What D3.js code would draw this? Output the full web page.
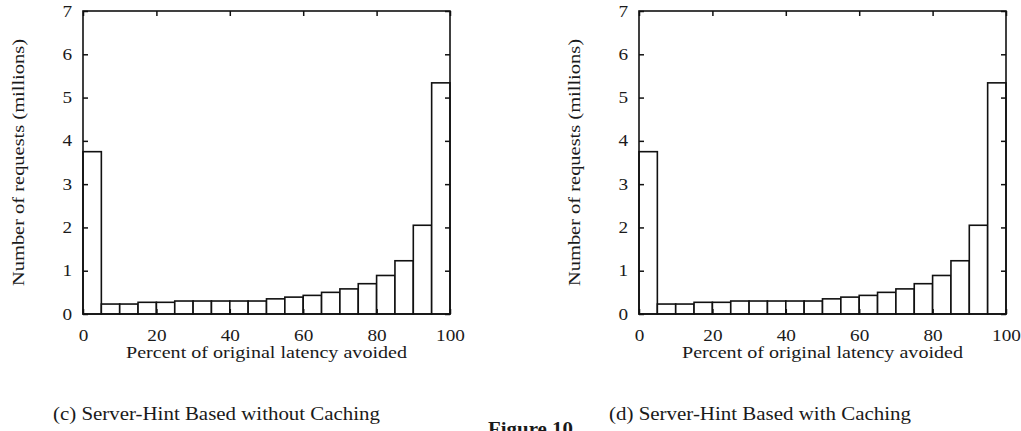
<!DOCTYPE html>
<html>
<head>
<meta charset="utf-8">
<script src="https://cdn.jsdelivr.net/npm/d3@7"></script>
<style>
  body { margin: 0; background: #fff; }
  svg text { font-family: "Times New Roman", "Liberation Serif", Times, serif; fill: #1a1a1a; }
</style>
</head>
<body>
<svg id="fig" width="1021" height="431"></svg>
<script>
// histogram bins (lower edge, percent) and counts in millions
var binStart = [0, 5, 10, 15, 20, 25, 30, 35, 40, 45, 50, 55, 60, 65, 70, 75, 80, 85, 90, 95];
var binWidth = 5;
var countsNoCache = [3.75, 0.23, 0.23, 0.27, 0.27, 0.30, 0.30, 0.30, 0.30, 0.30, 0.35, 0.39, 0.43, 0.50, 0.58, 0.70, 0.89, 1.23, 2.05, 5.34];
var countsCache   = [3.75, 0.23, 0.23, 0.27, 0.27, 0.30, 0.30, 0.30, 0.30, 0.30, 0.35, 0.39, 0.43, 0.50, 0.58, 0.70, 0.89, 1.23, 2.05, 5.34];

var xTicks = [0, 20, 40, 60, 80, 100];
var yTicks = [0, 1, 2, 3, 4, 5, 6, 7];

var xLabel = "Percent of original latency avoided";
var yLabel = "Number of requests (millions)";
var captions = ["(c) Server-Hint Based without Caching", "(d) Server-Hint Based with Caching"];
var figTitle = "Figure 10";

var serif = "'Times New Roman', 'Liberation Serif', Times, serif";
var svg = d3.select("#fig");

var top_ = 11, plotW = 367, plotH = 303;

// the scanned text is wider than the font, so stretch it a bit
function stretch(sel, perChar) {
  sel.attr("textLength", function() { return this.textContent.length * perChar; })
     .attr("lengthAdjust", "spacingAndGlyphs");
}

function panel(left, counts, caption, capLen) {
  var x = d3.scaleLinear().domain([0, 100]).range([0, plotW]);
  var y = d3.scaleLinear().domain([0, 7]).range([plotH, 0]);

  var g = svg.append("g").attr("transform", "translate(" + left + "," + top_ + ")");

  // bars
  g.selectAll(".bar")
    .data(binStart)
    .enter().append("rect")
    .attr("class", "bar")
    .attr("x", function(d) { return x(d); })
    .attr("width", function(d) { return x(d + binWidth) - x(d); })
    .attr("y", function(d, i) { return y(counts[i]); })
    .attr("height", function(d, i) { return plotH - y(counts[i]); })
    .attr("fill", "#fff")
    .attr("stroke", "#111")
    .attr("stroke-width", 1.6);

  // axes with inward ticks
  var ax = g.append("g").attr("transform", "translate(0," + plotH + ")")
    .call(d3.axisBottom(x).tickValues(xTicks).tickFormat(d3.format("d"))
      .tickSizeInner(-5).tickSizeOuter(0).tickPadding(16));
  var ay = g.append("g")
    .call(d3.axisLeft(y).tickValues(yTicks).tickFormat(d3.format("d"))
      .tickSizeInner(-5).tickSizeOuter(0).tickPadding(11));
  g.append("g")
    .call(d3.axisTop(x).tickValues(xTicks).tickSizeInner(-5).tickSizeOuter(0).tickFormat(""));
  g.append("g").attr("transform", "translate(" + plotW + ",0)")
    .call(d3.axisRight(y).tickValues(yTicks).tickSizeInner(-5).tickSizeOuter(0).tickFormat(""));

  g.selectAll(".domain").remove();
  g.selectAll("g").attr("font-family", serif);
  g.selectAll(".tick line").attr("stroke", "#111").attr("stroke-width", 1.5);
  [ax, ay].forEach(function(a) {
    a.selectAll("text").attr("font-size", 16).attr("fill", "#1a1a1a");
    stretch(a.selectAll("text"), 9.6);
  });

  // frame
  g.append("rect")
    .attr("width", plotW).attr("height", plotH)
    .attr("fill", "none").attr("stroke", "#111").attr("stroke-width", 1.6);

  // labels
  g.append("text")
    .attr("x", plotW / 2).attr("y", 347)
    .attr("text-anchor", "middle").attr("font-size", 16.5)
    .attr("textLength", 281).attr("lengthAdjust", "spacingAndGlyphs")
    .text(xLabel);

  g.append("text")
    .attr("transform", "translate(-59," + (plotH / 2) + ") rotate(-90)")
    .attr("text-anchor", "middle").attr("font-size", 16.5)
    .attr("textLength", 247).attr("lengthAdjust", "spacingAndGlyphs")
    .text(yLabel);

  svg.append("text")
    .attr("x", left - 30).attr("y", 420)
    .attr("font-size", 19)
    .attr("textLength", capLen).attr("lengthAdjust", "spacingAndGlyphs")
    .text(caption);
}

panel(83, countsNoCache, captions[0], 327);
panel(639, countsCache, captions[1], 302);

svg.append("text")
  .attr("x", 488).attr("y", 435)
  .attr("font-size", 19).attr("font-weight", "bold")
  .attr("textLength", 85).attr("lengthAdjust", "spacingAndGlyphs")
  .text(figTitle);
</script>
</body>
</html>
